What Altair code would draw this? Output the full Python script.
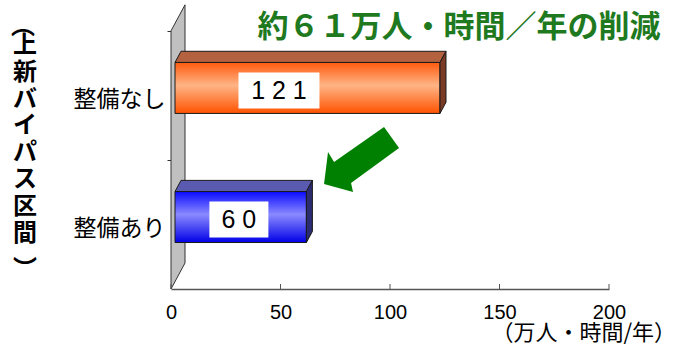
import altair as alt
import pandas as pd

# ---- chart values -------------------------------------------------------
categories = ["整備なし", "整備あり"]
values = [121, 60]
category_pos = [1, 0]          # row position of each category on the y scale
x_ticks = [0, 50, 100, 150, 200]

headline = "約６１万人・時間／年の削減"
unit_label = "（万人・時間/年）"
y_title_chars = ["上", "新", "バ", "イ", "パ", "ス", "区", "間"]

# ---- layout / style -----------------------------------------------------
W, H = 438, 284
X_DOMAIN = [0, 200]
Y_DOMAIN = [-0.5, 1.7]
PX_X = W / (X_DOMAIN[1] - X_DOMAIN[0])
PX_Y = H / (Y_DOMAIN[1] - Y_DOMAIN[0])

DEPTH_X = 14 / PX_X            # 3D depth vector of the back wall
DEPTH_Y = 26 / PX_Y
F_FRONT, F_BACK = 4 / 14, 10 / 14   # bar front/back planes as depth fractions
BAR_H = 51 / PX_Y

front_grad = {
    "整備なし": ["#ff5a0e", "#ffb486", "#ff5200"],
    "整備あり": ["#0a0aff", "#8a8aff", "#0000e6"],
}
top_color = {"整備なし": "#b4613f", "整備あり": "#5a5ab0"}
side_color = {"整備なし": "#7a3a26", "整備あり": "#2c2c72"}

xs = alt.Scale(domain=X_DOMAIN, nice=False, zero=False)
ys = alt.Scale(domain=Y_DOMAIN, nice=False, zero=False)

label_expr = " : ".join(
    f"datum.value == {p} ? '{name}'" for name, p in zip(categories, category_pos)
) + " : ''"

# one shared axis definition per channel, used by every layer so they merge
X_AX = alt.Axis(
    values=x_ticks, ticks=False, grid=False, title=None,
    labelFont="Liberation Sans", labelFontSize=20, labelColor="black",
    labelPadding=13, labelFlush=False,
    domainColor="#555555", domainWidth=1.5,
)
Y_AX = alt.Axis(
    values=[0, 0.5, 1, 1.5], labelExpr=label_expr, grid=False, title=None,
    domain=False, tickSize=4, tickColor="#333333",
    tickOpacity={"condition": {"test": "datum.value == 0.5 || datum.value == 1.5",
                               "value": 1}, "value": 0},
    labelFont="Noto Sans CJK JP", labelFontSize=23, labelColor="black",
    labelPadding=2, labelOffset=4,
)


def X(field, **kw):
    return alt.X(field, scale=xs, axis=X_AX, **kw)


def Y(field, **kw):
    return alt.Y(field, scale=ys, axis=Y_AX, **kw)


# ---- derived geometry tables -------------------------------------------
fx0, fy0 = F_FRONT * DEPTH_X, F_FRONT * DEPTH_Y
bx0, by0 = F_BACK * DEPTH_X, F_BACK * DEPTH_Y

front_rows, top_rows, side_rows, label_rows = [], [], [], []
for cat, v, c in zip(categories, values, category_pos):
    lo, hi = c - BAR_H / 2, c + BAR_H / 2
    front_rows.append(dict(cat=cat, x0=fx0, x1=v + fx0, y0=lo + fy0, y1=hi + fy0))
    top_rows += [
        dict(cat=cat, y=hi + fy0, xa=fx0, xb=v + fx0),
        dict(cat=cat, y=hi + by0, xa=bx0, xb=v + bx0),
    ]
    side_rows += [
        dict(cat=cat, x=v + fx0, ya=lo + fy0, yb=hi + fy0),
        dict(cat=cat, x=v + bx0, ya=lo + by0, yb=hi + by0),
    ]
    digits = str(v)
    half_w = (11 * len(digits) + 7.5) / PX_X
    cx = 13 + 0.3 * v
    cy = c + fy0 - 0.02
    label_rows.append(dict(cat=cat, cx=cx, cy=cy, xa=cx - half_w, xb=cx + half_w,
                           ya=cy - 18 / PX_Y, yb=cy + 18 / PX_Y,
                           txt=" ".join(digits)))

front_df = pd.DataFrame(front_rows)
top_df = pd.DataFrame(top_rows)
side_df = pd.DataFrame(side_rows)
label_df = pd.DataFrame(label_rows)

wall_df = pd.DataFrame({
    "x": [0, DEPTH_X],
    "ya": [Y_DOMAIN[0], Y_DOMAIN[0] + DEPTH_Y],
    "yb": [1.5, 1.5 + DEPTH_Y],
})
tick_df = pd.DataFrame({"t": x_ticks, "y0": Y_DOMAIN[0], "y1": Y_DOMAIN[0] + 5 / PX_Y})

# ---- layers ---------------------------------------------------------------
wall = alt.Chart(wall_df).mark_area(
    orient="vertical", fill="#c0c0c0", stroke="#333333", strokeWidth=1
).encode(x=X("x:Q"), y=Y("ya:Q", stack=None), y2="yb:Q")

ticks = alt.Chart(tick_df).mark_rule(color="#555555", strokeWidth=1).encode(
    x=X("t:Q"), y=Y("y0:Q"), y2="y1:Q",
)

bar_layers = []
for cat in categories:
    g = front_grad[cat]
    grad = alt.LinearGradient(
        gradient="linear", x1=0, x2=0, y1=0, y2=1,
        stops=[alt.GradientStop(offset=0, color=g[0]),
               alt.GradientStop(offset=0.45, color=g[1]),
               alt.GradientStop(offset=1, color=g[2])],
    )
    front = alt.Chart(front_df).transform_filter(alt.datum.cat == cat).mark_rect(
        fill=grad, stroke="#1a1a1a", strokeWidth=1
    ).encode(x=X("x0:Q"), x2="x1:Q", y=Y("y0:Q"), y2="y1:Q")
    top = alt.Chart(top_df).transform_filter(alt.datum.cat == cat).mark_area(
        orient="horizontal", fill=top_color[cat], stroke="#1a1a1a", strokeWidth=1
    ).encode(y=Y("y:Q"), x=X("xa:Q", stack=None), x2="xb:Q")
    side = alt.Chart(side_df).transform_filter(alt.datum.cat == cat).mark_area(
        orient="vertical", fill=side_color[cat], stroke="#1a1a1a", strokeWidth=1
    ).encode(x=X("x:Q"), y=Y("ya:Q", stack=None), y2="yb:Q")
    bar_layers += [front, top, side]

boxes = alt.Chart(label_df).mark_rect(fill="white").encode(
    x=X("xa:Q"), x2="xb:Q", y=Y("ya:Q"), y2="yb:Q",
)
box_text = alt.Chart(label_df).mark_text(
    font="Liberation Sans", fontSize=25, color="black",
    baseline="middle", align="center",
).encode(x=X("cx:Q"), y=Y("cy:Q"), text="txt:N")

# arrow pointing from the "no improvement" bar toward the improved one
arrow_path = ("M0.5625,-0.8125 L0.9375,-0.2875 L-0.2625,0.5875 L-0.2125,0.8125 "
              "L-0.9375,0.6125 L-0.8375,-0.1875 L-0.6875,0.0625 Z")
arrow = alt.Chart(pd.DataFrame({"x": [87], "y": [0.503]})).mark_point(
    shape=arrow_path, size=6400, filled=True, color="#008000", opacity=1, strokeWidth=0
).encode(x=X("x:Q"), y=Y("y:Q"))

one = pd.DataFrame({"k": [0]})
headline_text = alt.Chart(one).mark_text(
    text=headline, font="Noto Sans CJK JP", fontWeight="bold", fontSize=31,
    color="#1f7a1f", align="center", baseline="middle",
).encode(x=alt.value(288), y=alt.value(23))

unit_text = alt.Chart(one).mark_text(
    text=unit_label, font="Noto Sans CJK JP", fontSize=22, color="black",
    align="right", baseline="middle",
).encode(x=alt.value(505), y=alt.value(328))

y_title = alt.Chart(one).mark_text(
    text=y_title_chars, font="Noto Sans CJK JP", fontWeight="bold", fontSize=24,
    lineHeight=26.8, color="black", align="center", baseline="middle",
).encode(x=alt.value(-146), y=alt.value(41))

paren_open = alt.Chart(one).mark_text(
    text="︵", font="Noto Sans CJK JP", fontWeight="bold", fontSize=24,
    color="black", align="center", baseline="middle",
).encode(x=alt.value(-148), y=alt.value(22))

paren_close = alt.Chart(one).mark_text(
    text="︶", font="Noto Sans CJK JP", fontWeight="bold", fontSize=24,
    color="black", align="center", baseline="middle",
).encode(x=alt.value(-146), y=alt.value(265))

chart = alt.layer(
    wall, ticks, *bar_layers, boxes, box_text, arrow,
    headline_text, unit_text, y_title, paren_open, paren_close,
).properties(
    width=W, height=H,
    autosize=alt.AutoSizeParams(type="none"),
    padding={"left": 171, "top": 5, "right": 66, "bottom": 56},
    background="white",
).configure_view(strokeWidth=0)

chart.save("out.html", embed_options={"renderer": "svg", "actions": False})
